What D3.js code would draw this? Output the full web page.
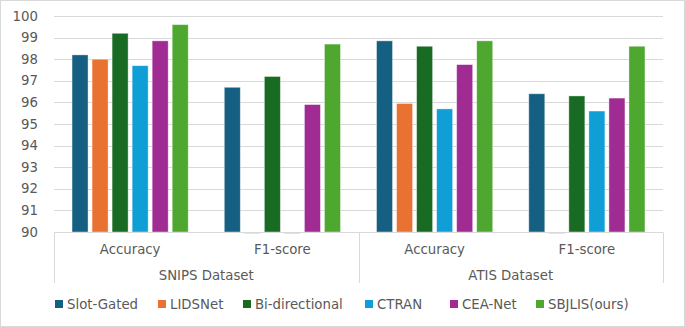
<!DOCTYPE html>
<html>
<head>
<meta charset="utf-8">
<script src="https://cdn.jsdelivr.net/npm/d3@7"></script>
<style>
  body { margin: 0; background: #fff; }
  svg text { font-family: "DejaVu Sans", "Open Sans", sans-serif; fill: #595959; }
</style>
</head>
<body>
<div id="graph"></div>
<script>
var datasets = ['SNIPS Dataset', 'ATIS Dataset']
var metrics = ['Accuracy', 'F1-score']
var models = ['Slot-Gated', 'LIDSNet', 'Bi-directional', 'CTRAN', 'CEA-Net', 'SBJLIS(ours)']
var colors = ['#156082', '#E97132', '#196B24', '#0F9ED5', '#A02B93', '#4EA72E']
var yTicks = [90, 91, 92, 93, 94, 95, 96, 97, 98, 99, 100]

// one row per model, in order: SNIPS acc, SNIPS f1, ATIS acc, ATIS f1 (0 = not reported)
var slotGated = [98.2, 96.7, 98.85, 96.4]
var lidsNet = [98.0, 0, 95.95, 0]
var biDirectional = [99.2, 97.2, 98.6, 96.3]
var ctran = [97.7, 0, 95.7, 95.6]
var ceaNet = [98.85, 95.9, 97.75, 96.2]
var sbjlis = [99.6, 98.7, 98.85, 98.6]

var series = [slotGated, lidsNet, biDirectional, ctran, ceaNet, sbjlis]

var groups = []
datasets.forEach(ds => metrics.forEach(m => groups.push({ds, m, key: ds + '|' + m})))

var W = 685, H = 327
var margin = {left: 54, right: 22, top: 16, bottom: 95}
var fs = 13.3

var svg = d3.select('#graph').append('svg').attr('width', W).attr('height', H)

svg.append('rect')
  .attr('x', 0.5).attr('y', 0.5).attr('width', W - 1).attr('height', H - 1)
  .attr('fill', '#fff').attr('stroke', '#d9d9d9')

var x0 = d3.scaleBand().domain(groups.map(d => d.key)).range([margin.left, W - margin.right])
var x1 = d3.scaleBand().domain(models).range([0, x0.bandwidth()]).paddingInner(0.2).paddingOuter(0.9)
var y = d3.scaleLinear().domain([90, 100]).range([H - margin.bottom, margin.top]).clamp(true)

// gridlines
svg.append('g').selectAll('line').data(yTicks).join('line')
  .attr('x1', margin.left).attr('x2', W - margin.right)
  .attr('y1', d => Math.round(y(d)) + 0.5).attr('y2', d => Math.round(y(d)) + 0.5)
  .attr('stroke', '#d9d9d9')

// y tick labels
svg.append('g').selectAll('text').data(yTicks).join('text')
  .attr('x', 38).attr('y', d => y(d)).attr('dy', '0.35em')
  .attr('text-anchor', 'end').attr('font-size', fs)
  .text(d => d)

// bars
var bars = svg.append('g')
groups.forEach((g, gi) => {
  models.forEach((m, mi) => {
    var v = series[mi][gi]
    var bx = x0(g.key) + x1(m)
    if (v > 90) {
      bars.append('rect')
        .attr('x', bx).attr('y', y(v))
        .attr('width', x1.bandwidth()).attr('height', y(90) - y(v))
        .attr('fill', colors[mi])
        .attr('stroke', '#fff').attr('stroke-opacity', 0.5).attr('stroke-width', 0.8)
    } else {
      bars.append('rect')
        .attr('x', bx).attr('y', y(v))
        .attr('width', x1.bandwidth()).attr('height', 1.5)
        .attr('fill', colors[mi]).attr('opacity', 0.45)
    }
  })
})

// category axis box
var axisY = Math.round(y(90)) + 0.5
var boxBottom = 283
svg.append('line')
  .attr('x1', margin.left).attr('x2', W - margin.right)
  .attr('y1', axisY).attr('y2', axisY).attr('stroke', '#d9d9d9')

var dsX = d3.scaleBand().domain(datasets).range([margin.left, W - margin.right])
var seps = [margin.left].concat(datasets.map(d => dsX(d) + dsX.bandwidth()))
svg.append('g').selectAll('line').data(seps).join('line')
  .attr('x1', d => Math.round(d) + 0.5).attr('x2', d => Math.round(d) + 0.5)
  .attr('y1', axisY).attr('y2', boxBottom).attr('stroke', '#d9d9d9')

svg.append('g').selectAll('text').data(groups).join('text')
  .attr('x', d => x0(d.key) + x0.bandwidth() / 2).attr('y', 249).attr('dy', '0.35em')
  .attr('text-anchor', 'middle').attr('font-size', fs)
  .text(d => d.m)

svg.append('g').selectAll('text').data(datasets).join('text')
  .attr('x', d => dsX(d) + dsX.bandwidth() / 2).attr('y', 275).attr('dy', '0.35em')
  .attr('text-anchor', 'middle').attr('font-size', fs)
  .text(d => d)

// legend
var legendX = [55, 158, 243, 365, 450, 536]
var leg = svg.append('g').selectAll('g').data(models).join('g')
  .attr('transform', (d, i) => `translate(${legendX[i]},304)`)
leg.append('rect').attr('x', 0).attr('y', -4).attr('width', 8).attr('height', 8)
  .attr('fill', (d, i) => colors[i])
leg.append('text').attr('x', 12).attr('dy', '0.35em').attr('font-size', fs).text(d => d)
</script>
</body>
</html>
